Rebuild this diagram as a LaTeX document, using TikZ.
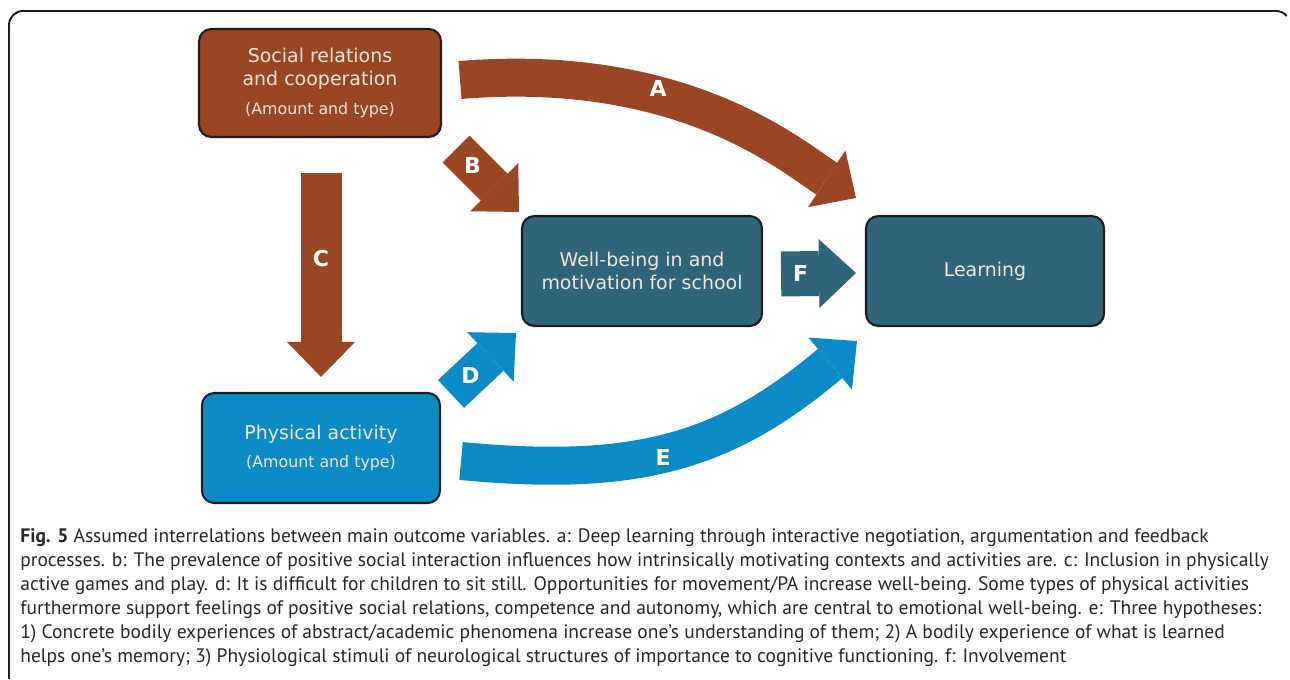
\documentclass[tikz,border=0pt]{standalone}
\usepackage{fontspec}
\setmainfont{DejaVu Sans}
\newfontfamily\capfont{PT Sans}
\usetikzlibrary{arrows.meta}

\definecolor{relbrown}{RGB}{154,70,36}
\definecolor{wellteal}{RGB}{48,100,122}
\definecolor{physblue}{RGB}{10,139,199}
\definecolor{boxline}{RGB}{30,30,30}
\definecolor{boxtext}{RGB}{240,232,222}
\definecolor{captext}{RGB}{40,38,38}

\tikzset{
  outcome/.style={draw=boxline, line width=1.2pt, rounded corners=7pt,
    minimum width=4.8cm, minimum height=2.2cm, align=center, text=boxtext,
    font=\fontsize{10.8}{13}\selectfont, inner sep=0pt},
  fat/.style={line width=0.76cm, -{Triangle[length=0.7cm,width=1.36cm,line width=0pt]}},
  letter/.style={text=white, font=\fontsize{12.5}{14}\selectfont\bfseries},
  capline/.style={anchor=base west, inner sep=0pt, text=captext,
    font=\capfont\fontsize{11.1}{13}\selectfont}
}
\newcommand{\amounttype}{{\fontsize{9}{11}\selectfont (Amount and type)}}

\begin{document}
\begin{tikzpicture}[x=0.02cm, y=-0.02cm]
\useasboundingbox (0,0) rectangle (1290,679);

% frame
\draw[line width=1.1pt, boxline] (9,679) -- (9,25) arc[start angle=180, end angle=270, radius=14]
  -- (1276,11) arc[start angle=270, end angle=320, radius=14];

% boxes
\node[outcome, fill=relbrown, minimum width=4.84cm, minimum height=2.16cm] (soc) at (320,83)
  {Social relations\\and cooperation\\[4pt]\amounttype};
\node[outcome, fill=wellteal] (well) at (642,271) {Well-being in and\\motivation for school};
\node[outcome, fill=wellteal, minimum width=4.76cm] (learn) at (985,271) {Learning};
\node[outcome, fill=physblue, minimum width=4.76cm] (phys) at (321,448)
  {Physical activity\\[3pt]\amounttype};

% arrow ends
\coordinate (a0) at ([shift={(18,-3)}]soc.east);
\coordinate (a1) at ([shift={(-9,-17)}]learn.north west);
\coordinate (b0) at ([shift={(14,11)}]soc.south east);
\coordinate (b1) at ([shift={(-2,-3)}]well.north west);
\coordinate (c0) at ([shift={(1,35)}]soc.south);
\coordinate (c1) at ([shift={(0,-15)}]phys.north);
\coordinate (d0) at ([shift={(10,2)}]phys.north east);
\coordinate (d1) at ([shift={(-5,6)}]well.south west);
\coordinate (e0) at ([shift={(20,13)}]phys.east);
\coordinate (e1) at ([shift={(-8,14)}]learn.south west);
\coordinate (f0) at ([shift={(18,3)}]well.east);
\coordinate (f1) at ([shift={(-9,2)}]learn.west);

% arrows
\draw[fat, relbrown] (a0) .. controls +(221,-18) and +(-67,-44) .. (a1)
  node[letter, pos=0.36, yshift=4pt] {A};
\draw[fat, relbrown] (b0) -- (b1) node[letter, pos=0.26] {B};
\draw[fat, relbrown, line width=0.82cm] (c0) -- (c1) node[letter, pos=0.42] {C};
\draw[fat, physblue] (d0) -- (d1) node[letter, pos=0.3] {D};
\draw[fat, physblue] (e0) .. controls +(180,17) and +(-130,109) .. (e1)
  node[letter, pos=0.46, yshift=-3pt] {E};
\draw[fat, wellteal, line width=0.9cm, -{Triangle[length=0.74cm,width=1.38cm,line width=0pt]}]
  (f0) -- (f1) node[letter, pos=0.26] {F};

% caption
\node[capline] (cap1) at (20,542) {\textbf{Fig. 5} Assumed interrelations between main outcome variables. a: Deep learning through interactive negotiation, argumentation and feedback};
\node[capline] (cap2) at (20,566) {processes. b: The prevalence of positive social interaction influences how intrinsically motivating contexts and activities are. c: Inclusion in physically};
\node[capline] (cap3) at (20,590) {active games and play. d: It is difficult for children to sit still. Opportunities for movement/PA increase well-being. Some types of physical activities};
\node[capline] (cap4) at (20,614) {furthermore support feelings of positive social relations, competence and autonomy, which are central to emotional well-being. e: Three hypotheses:};
\node[capline] (cap5) at (20,638) {1) Concrete bodily experiences of abstract/academic phenomena increase one’s understanding of them; 2) A bodily experience of what is learned};
\node[capline] (cap6) at (20,662) {helps one’s memory; 3) Physiological stimuli of neurological structures of importance to cognitive functioning. f: Involvement};
\end{tikzpicture}
\end{document}
